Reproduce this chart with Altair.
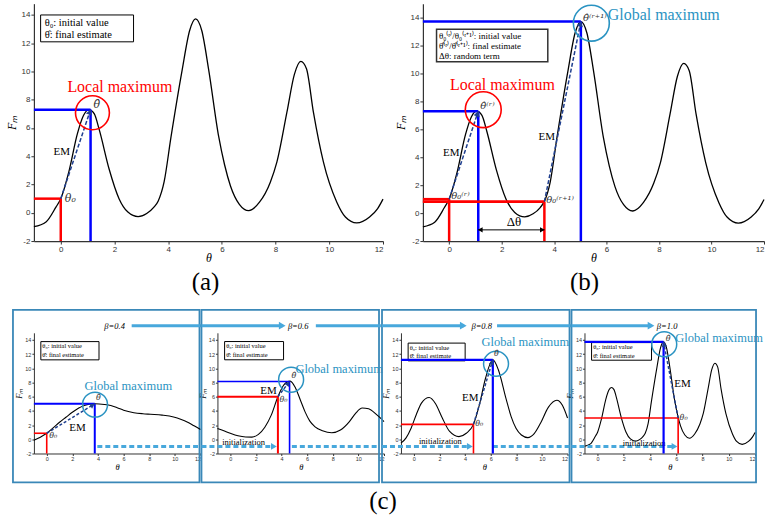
import math
import altair as alt
import pandas as pd

# ---------------- values ----------------
# F_m(theta) at beta = 1.0 (panels a, b and last panel of c)
theta_b10 = [-1.0, -0.55, -0.18, 0.0, 0.3, 0.62, 0.85, 1.05, 1.25, 1.43,
             1.8, 2.17, 2.5, 2.88, 3.2, 3.47, 3.63, 3.85, 4.1, 4.52,
             4.8, 5.02, 5.25, 5.51, 5.88, 6.1, 6.32, 6.65, 7.0, 7.4,
             7.8, 8.05, 8.42, 8.7, 8.94, 9.15, 9.41, 9.78, 10.28, 10.6,
             11.02, 11.5, 11.8, 12.0]
fm_b10 = [-0.98, -0.65, 0.4, 1.0, 2.9, 5.6, 6.9, 7.3, 7.0, 5.9,
          3.1, 1.0, 0.05, -0.27, -0.05, 0.4, 0.84, 2.2, 5.3, 10.1,
          12.9, 13.72, 12.9, 10.1, 5.4, 3.4, 1.9, 0.6, 0.15, 0.75,
          2.15, 3.6, 7.1, 9.8, 10.72, 10.2, 7.1, 3.6, 0.75, -0.3,
          -0.72, -0.3, 0.3, 0.97]
# beta = 0.8
theta_b08 = [-1.0, -0.6, -0.2, 0.2, 0.6, 1.2, 1.7, 2.2, 2.8, 3.53,
             4.1, 4.66, 5.1, 5.6, 6.17, 6.6, 7.2, 7.6, 7.98, 8.4,
             8.9, 9.4, 9.9, 10.5, 11.17, 11.6, 12.0]
fm_b08 = [-0.55, 0.2, 1.6, 3.5, 5.1, 5.88, 5.0, 3.1, 1.1, 0.38,
          0.85, 2.1, 4.7, 8.6, 11.2, 9.8, 5.74, 3.2, 1.55, 0.6,
          0.24, 0.8, 2.3, 4.5, 5.5, 4.8, 3.0]
# beta = 0.6
theta_b06 = [-1.0, -0.5, 0.0, 0.6, 1.2, 1.69, 2.2, 2.7, 3.2, 3.72,
             4.2, 4.68, 5.1, 5.5, 5.84, 6.2, 6.62, 7.2, 7.92, 8.6,
             9.3, 9.8, 10.3, 10.8, 11.4, 12.0]
fm_b06 = [1.52, 1.2, 0.85, 0.5, 0.33, 0.31, 0.7, 1.7, 3.4, 6.0,
          7.7, 8.2, 7.2, 5.4, 3.86, 2.6, 1.76, 1.2, 0.92, 1.3,
          2.5, 3.7, 4.4, 4.3, 3.5, 2.5]
# beta = 0.4
theta_b04 = [-1.0, -0.5, 0.0, 0.5, 1.0, 1.5, 2.0, 2.5, 3.0, 3.75,
             4.5, 5.0, 5.5, 6.0, 6.8, 7.5, 8.1, 9.0, 9.9, 10.5,
             10.96, 11.5, 12.0]
fm_b04 = [-0.13, 0.3, 0.85, 1.6, 2.4, 3.1, 3.8, 4.4, 4.8, 5.0,
          4.9, 4.75, 4.45, 4.1, 3.75, 3.6, 3.52, 3.4, 3.15, 2.8,
          2.45, 1.9, 1.37]

x_ticks = [0, 2, 4, 6, 8, 10, 12]
y_ticks = [-2, 0, 2, 4, 6, 8, 10, 12, 14]

# EM runs: (theta0, F(theta0), theta_hat, F(theta_hat))
em_a = (0.0, 1.0, 1.11, 7.3)
em_b_r = (0.0, 1.0, 1.11, 7.3)
em_b_r1 = (3.63, 0.82, 5.02, 13.72)
em_c04 = (0.0, 0.85, 3.75, 5.0)
em_c06 = (3.72, 6.0, 4.63, 8.15)
em_c08 = (4.66, 2.1, 6.17, 11.2)
em_c10 = (6.14, 3.0, 5.03, 13.72)
init_level = -1.0
beta_level = 16.0

# ---------------- styling ----------------
SERIF = "Liberation Serif"
MATH = "DejaVu Serif"
SANS = "Liberation Sans"
RED = "#ff0000"
BLUE = "#0000ff"
NAVY = "#1f3f8f"
TEAL = "#2a93c2"
LIGHT = "#48a8dc"
FRAME = "#3a88b8"
GREY = "#333333"


class Panel:
    def __init__(self, w, h, xd, yd, small, flush=False):
        self.w, self.h, self.small = w, h, small
        self.xd, self.yd = xd, yd
        self.sx = alt.Scale(domain=xd, nice=False, zero=False)
        self.sy = alt.Scale(domain=yd, nice=False, zero=False)
        self.kx = w / (xd[1] - xd[0])
        self.ky = h / (yd[1] - yd[0])
        self.layers = []
        s = small
        common = dict(
            labelFont=SANS, labelFontSize=5.5 if s else 8, labelColor=GREY,
            tickColor=GREY, domainColor=GREY, tickSize=2 if s else 3,
            domainWidth=1 if s else 1.2, tickWidth=1, grid=False,
            labelPadding=1, titleFont=SERIF,
            titleFontStyle="italic", titleFontWeight="normal",
            titleFontSize=8.5 if s else 12, titleColor="black",
            labelExpr="'' + datum.value")
        ax_kw = dict(common)
        if flush:
            ax_kw["labelFlush"] = True
        self.ax = alt.Axis(values=x_ticks, title="θ", titlePadding=1 if s else 0, **ax_kw)
        self.ay = alt.Axis(values=y_ticks, title="Fₘ", titlePadding=1 if s else 3, **common)

    def _xy(self):
        return dict(x=alt.X("x:Q", scale=self.sx, axis=self.ax),
                    y=alt.Y("y:Q", scale=self.sy, axis=self.ay))

    def tx(self, px):
        return self.xd[0] + px / self.kx

    def ty(self, py):
        return self.yd[1] - py / self.ky

    def seg(self, x1, y1, x2, y2, color, width, dash=None, opacity=1.0):
        df = pd.DataFrame({"x": [x1], "y": [y1], "x2": [x2], "y2": [y2]})
        kw = dict(color=color, strokeWidth=width, opacity=opacity)
        if dash is not None:
            kw["strokeDash"] = dash
        self.layers.append(alt.Chart(df).mark_rule(**kw).encode(
            x2="x2:Q", y2="y2:Q", **self._xy()))

    def head(self, x, y, dx, dy, color, size, back=2.5):
        px, py = dx * self.kx, -dy * self.ky
        L = math.hypot(px, py)
        ang = math.degrees(math.atan2(px, -py)) % 360
        cx = x - px / L * back / self.kx
        cy = y + py / L * back / self.ky
        df = pd.DataFrame({"x": [cx], "y": [cy]})
        self.layers.append(alt.Chart(df).mark_point(
            shape="triangle-up", filled=True, color=color, size=size,
            angle=ang, opacity=1).encode(**self._xy()))

    def ring(self, x, y, r, color, width=1.6):
        df = pd.DataFrame({"x": [x], "y": [y]})
        self.layers.append(alt.Chart(df).mark_point(
            shape="circle", filled=False, color=color, size=(2 * r) ** 2,
            strokeWidth=width, opacity=1).encode(**self._xy()))

    def box(self, x1, x2, y1, y2, stroke, width, fill="white", fill_opacity=1.0):
        df = pd.DataFrame({"x": [x1], "x2": [x2], "y": [y1], "y2": [y2]})
        self.layers.append(alt.Chart(df).mark_rect(
            fill=fill, fillOpacity=fill_opacity, stroke=stroke,
            strokeWidth=width).encode(x2="x2:Q", y2="y2:Q", **self._xy()))

    def text(self, x, y, s, size, color="black", style="normal",
             align="center", font=SERIF):
        df = pd.DataFrame({"x": [x], "y": [y], "s": [s]})
        self.layers.append(alt.Chart(df).mark_text(
            font=font, fontSize=size, color=color, fontStyle=style,
            align=align, baseline="middle").encode(text="s:N", **self._xy()))

    def spacer(self, px):
        x = self.tx(px)
        self.seg(x, 0, x, 0, "white", 0.5, opacity=0)

    def curve(self, th, fm, width):
        df = pd.DataFrame({"x": th, "y": fm})
        self.layers.append(alt.Chart(df).mark_line(
            color="black", strokeWidth=width, interpolate="monotone").encode(**self._xy()))

    def em(self, run, lw_red, lw_blue, dash, head_size):
        t0, f0, th, fh = run
        self.seg(self.xd[0], f0, t0, f0, RED, lw_red)
        self.seg(t0, self.yd[0], t0, f0, RED, lw_red)
        self.seg(self.xd[0], fh, th, fh, BLUE, lw_blue)
        self.seg(th, self.yd[0], th, fh, BLUE, lw_blue)
        self.seg(t0, f0, th, fh, NAVY, 1.5, dash=dash)
        self.head(th, fh, th - t0, fh - f0, NAVY, head_size)

    def chart(self, **props):
        return alt.layer(*self.layers).properties(width=self.w, height=self.h, **props)


# ---------------- panel (a) ----------------
A = Panel(350, 238, [-1, 12], [-2, 14.8], small=False)
A.spacer(-30)
A.box(-0.75, 2.71, 12.1, 14.0, "black", 1)
A.text(-0.6, 13.45, "θ₀:  initial value", 10.5, align="left")
A.text(-0.6, 12.55, "θ̂:  final estimate", 10.5, align="left")
A.curve(theta_b10, fm_b10, 1.3)
A.em(em_a, 2.5, 2.5, [4, 2], 40)
A.ring(1.18, 7.08, 17, RED)
A.text(2.2, 8.9, "Local maximum", 16, color=RED)
A.text(1.34, 7.6, "θ̂", 11, color=GREY, style="italic", font=MATH)
A.text(0.15, 0.95, "θ₀", 11, color=GREY, style="italic", align="left", font=MATH)
A.text(0.04, 4.33, "EM", 11)
chart_a = A.chart(title=alt.TitleParams("(a)", orient="bottom", font=SERIF, fontSize=25,
                                        fontWeight="normal", offset=6, dx=-3))

# ---------------- panel (b) ----------------
B = Panel(342, 238, [-1, 12], [-2, 15], small=False, flush=True)
B.box(-0.48, 3.76, 10.84, 13.16, GREY, 1.5)
B.text(-0.39, 12.69, "θ₀⁽ʳ⁾/θ₀⁽ʳ⁺¹⁾:  initial value", 9, align="left")
B.text(-0.39, 11.98, "θ̂⁽ʳ⁾/θ̂⁽ʳ⁺¹⁾:  final estimate", 9, align="left")
B.text(-0.39, 11.26, "Δθ:  random term", 9, align="left")
B.curve(theta_b10, fm_b10, 1.3)
B.seg(-1, em_b_r1[1], em_b_r1[0], em_b_r1[1], RED, 2.5)
B.em(em_b_r, 2.5, 2.5, [4, 2], 40)
B.em(em_b_r1, 2.5, 2.5, [4, 2], 40)
B.seg(em_b_r[2], -1.2, em_b_r1[0], -1.2, "black", 1)
B.head(em_b_r[2], -1.2, -1, 0, "black", 30, back=2)
B.head(em_b_r1[0], -1.2, 1, 0, "black", 30, back=2)
B.text(2.47, -0.62, "Δθ", 13)
B.ring(1.30, 7.41, 18, RED)
B.ring(5.42, 13.6, 18, TEAL)
B.text(2.03, 9.19, "Local maximum", 16, color=RED)
B.text(8.18, 14.16, "Global maximum", 16, color=TEAL)
B.text(1.19, 7.64, "θ̂⁽ʳ⁾", 10, color=GREY, style="italic", align="left", font=MATH)
B.text(5.1, 14.0, "θ̂⁽ʳ⁺¹⁾", 10, color=GREY, style="italic", align="left", font=MATH)
B.text(0.08, 1.25, "θ₀⁽ʳ⁾", 10, color=GREY, style="italic", align="left", font=MATH)
B.text(3.7, 0.95, "θ₀⁽ʳ⁺¹⁾", 10, color=GREY, style="italic", align="left", font=MATH)
B.text(0.08, 4.31, "EM", 11)
B.text(3.72, 5.43, "EM", 11)
chart_b = B.chart(title=alt.TitleParams("(b)", orient="bottom", font=SERIF, fontSize=25,
                                        fontWeight="normal", offset=6, dx=-9))

# ---------------- panel (c) ----------------
CH = 121
FR_TOP, FR_BOT = -23, 150   # frame edges relative to plot top (px)


def small(w, th, fm, run, lw_red, lw_blue, ring_xy, gm_xy, hat_xy, t0_xy, em_xy,
          frame_px, leg, beta_label, beta_in, beta_out, init_in, init_out, init_text,
          spacer=False):
    P = Panel(w, CH, [-1, 12], [-2, 15], small=True)
    if spacer:
        P.spacer(-30)
    P.box(P.tx(frame_px[0]), P.tx(frame_px[1]), P.ty(FR_BOT), P.ty(FR_TOP), FRAME, 1.8,
          fill="white", fill_opacity=0)
    P.box(leg[0], leg[1], leg[2], leg[3], "black", 1)
    P.text(leg[0] + 0.12, leg[3] - 0.65, "θ₀:  initial value", 6.5, align="left")
    P.text(leg[0] + 0.12, leg[2] + 0.62, "θ̂:  final estimate", 6.5, align="left")
    P.curve(th, fm, 1.1)
    if init_in is not None:
        P.seg(P.tx(frame_px[0]), init_level, init_in - 0.25, init_level, LIGHT, 3, dash=[5, 3])
        P.head(init_in, init_level, 1, 0, LIGHT, 45, back=3)
    if init_text is not None:
        P.text(init_text[0], init_text[1], "initialization", 8.5)
    if init_out is not None:
        P.seg(init_out, init_level, P.tx(frame_px[1]), init_level, LIGHT, 3, dash=[5, 3])
    if beta_in is not None:
        P.seg(P.tx(frame_px[0]), beta_level, beta_in - 0.2, beta_level, LIGHT, 3)
        P.head(beta_in, beta_level, 1, 0, LIGHT, 60, back=3)
    P.text(5.3, beta_level, beta_label, 8.5, style="italic")
    if beta_out is not None:
        P.seg(beta_out, beta_level, P.tx(frame_px[1]) + 0.15, beta_level, LIGHT, 3)
    P.em(run, lw_red, lw_blue, [3, 2], 30)
    P.ring(ring_xy[0], ring_xy[1], 12.5, TEAL, 1.5)
    P.text(gm_xy[0], gm_xy[1], "Global maximum", 12.5, color=TEAL)
    P.text(hat_xy[0], hat_xy[1], "θ̂", 8, color=GREY, style="italic", font=MATH)
    P.text(t0_xy[0], t0_xy[1], "θ₀", 8, color=GREY, style="italic", align="left", font=MATH)
    P.text(em_xy[0], em_xy[1], "EM", 11)
    return P


C1 = small(167, theta_b04, fm_b04, em_c04, 1.6, 2.0, (3.77, 4.88), (6.37, 7.45),
           (4.03, 5.75), (0.2, 0.5), (2.4, 1.6), (-21, 166), (-0.46, 4.08, 11.19, 13.76),
           "β=0.4", None, 6.63, None, 3.95, None, spacer=True)
C2 = small(167, theta_b06, fm_b06, em_c06, 2.0, 1.6, (4.75, 8.4), (8.5, 9.84),
           (4.96, 8.9), (3.85, 5.5), (2.99, 6.76), (-16, 162), (-0.44, 4.16, 11.2, 13.77),
           "β=0.6", 4.29, 6.68, 3.64, 4.81, (1.04, -0.35))
C2.text(11.92, C2.ty(169), "(c)", 25)
C3 = small(167, theta_b08, fm_b08, em_c08, 1.6, 2.2, (6.42, 10.64), (8.71, 13.77),
           (6.45, 11.95), (4.8, 2.1), (4.41, 5.84), (-19, 169), (-0.44, 4.01, 11.05, 13.55),
           "β=0.8", 4.1, 6.5, 4.61, 6.17, (2.08, -0.3))
C4 = small(171, theta_b10, fm_b10, em_c10, 1.6, 2.2, (5.08, 13.4), (9.26, 14.33),
           (5.38, 14.15), (6.25, 3.06), (6.47, 7.85), (-13, 172), (-0.46, 4.11, 11.14, 13.62),
           "β=1.0", 4.3, None, 6.09, None, (3.55, -0.46))

top = alt.hconcat(chart_a, chart_b, spacing=40, bounds="flush")
bottom = alt.hconcat(C1.chart(), C2.chart(), C3.chart(), C4.chart(), spacing=17, bounds="flush")

chart = alt.vconcat(top, bottom, spacing=12).properties(
    padding={"left": 3, "top": 0, "right": 0, "bottom": 0}
).configure_view(stroke="transparent")

chart.save("out.html", embed_options={"renderer": "svg", "actions": False})
